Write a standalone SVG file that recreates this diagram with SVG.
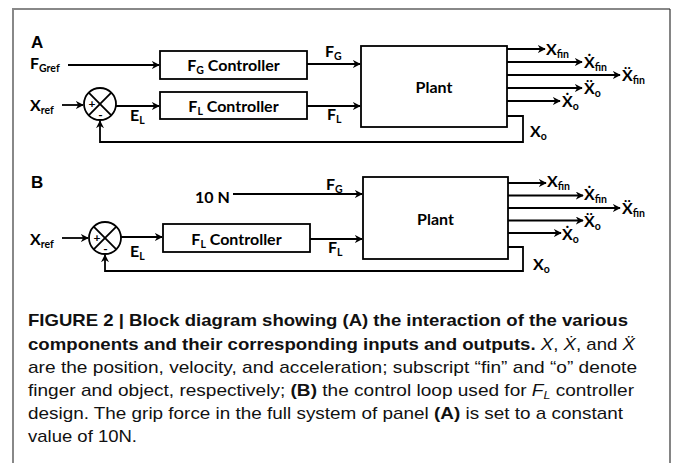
<svg xmlns="http://www.w3.org/2000/svg" width="673" height="463" viewBox="0 0 673 463">
<style>
.lbl{font-family:Lato,"Open Sans","Liberation Sans",sans-serif;font-weight:700;font-size:16px;fill:#000}
.sm{font-size:10.5px}
.sg{font-family:Lato,"Liberation Sans",sans-serif;font-weight:700;font-size:12px;fill:#000}
.ln{fill:none;stroke:#000;stroke-width:1.8}
.box{fill:#fff;stroke:#000;stroke-width:1.8}
.panel{font-family:"Liberation Sans",Arial,sans-serif;font-weight:700;font-size:17px;fill:#000}
.cap{font-family:"Liberation Sans",Arial,sans-serif;font-size:17px;fill:#111}
.b{font-weight:700}
.i{font-style:italic}
</style>
<defs>
<marker id="ah" viewBox="0 0 10 10" refX="9" refY="5" markerWidth="8" markerHeight="8" markerUnits="userSpaceOnUse" orient="auto">
<path d="M0,0 L10,5 L0,10 L3,5 Z" fill="#000"/>
</marker>
</defs>
<rect width="673" height="463" fill="#fff"/>
<g id="frame">
<path d="M13,463 V9 H670" fill="none" stroke="#888" stroke-width="2"/>
<path d="M670,9 V463" fill="none" stroke="#333" stroke-width="1.2"/>
</g>

<!-- Panel A -->
<text class="panel" x="31" y="48">A</text>
<g id="A-fgctrl"><rect class="box" x="160" y="51" width="147" height="28"/>
<text class="lbl" x="233.5" y="71" text-anchor="middle">F<tspan class="sm" dy="3">G</tspan><tspan dy="-3"> Controller</tspan></text></g>
<g id="A-flctrl"><rect class="box" x="160" y="92" width="147" height="27"/>
<text class="lbl" x="233.5" y="112" text-anchor="middle">F<tspan class="sm" dy="3">L</tspan><tspan dy="-3"> Controller</tspan></text></g>
<g id="A-sum"><circle class="ln" cx="100" cy="104" r="16"/>
<path class="ln" d="M88.7,92.7 L111.3,115.3 M111.3,92.7 L88.7,115.3" stroke-width="1.5"/>
<text class="sg" x="92" y="108" text-anchor="middle">+</text>
<text class="sg" x="100.5" y="119" text-anchor="middle">-</text></g>
<g id="A-plant"><rect class="box" x="361" y="46" width="146" height="81"/>
<text class="lbl" x="434" y="93" text-anchor="middle">Plant</text></g>
<g id="A-labels">
<text class="lbl" x="30" y="69">F<tspan class="sm" dy="3">Gref</tspan></text>
<text class="lbl" x="30" y="111">X<tspan class="sm" dy="3">ref</tspan></text>
<text class="lbl" x="130" y="121">E<tspan class="sm" dy="3">L</tspan></text>
<text class="lbl" x="325" y="57">F<tspan class="sm" dy="3">G</tspan></text>
<text class="lbl" x="327" y="120">F<tspan class="sm" dy="3">L</tspan></text>
<text class="lbl" x="546" y="55">X<tspan class="sm" dy="3">fin</tspan></text>
<text class="lbl" x="584" y="68">Ẋ<tspan class="sm" dy="3">fin</tspan></text>
<text class="lbl" x="622" y="81">Ẍ<tspan class="sm" dy="3">fin</tspan></text>
<text class="lbl" x="584" y="94">Ẍ<tspan class="sm" dy="3">o</tspan></text>
<text class="lbl" x="562" y="107">Ẋ<tspan class="sm" dy="3">o</tspan></text>
<text class="lbl" x="530" y="137">X<tspan class="sm" dy="3">o</tspan></text>
</g>

<!-- Panel B -->
<text class="panel" x="31" y="188">B</text>
<g id="B-flctrl"><rect class="box" x="163" y="224" width="147" height="28"/>
<text class="lbl" x="236.5" y="245" text-anchor="middle">F<tspan class="sm" dy="3">L</tspan><tspan dy="-3"> Controller</tspan></text></g>
<g id="B-sum"><circle class="ln" cx="105" cy="238" r="16"/>
<path class="ln" d="M93.7,226.7 L116.3,249.3 M116.3,226.7 L93.7,249.3" stroke-width="1.5"/>
<text class="sg" x="97" y="242" text-anchor="middle">+</text>
<text class="sg" x="105.5" y="253" text-anchor="middle">-</text></g>
<g id="B-plant"><rect class="box" x="363" y="177" width="145" height="82"/>
<text class="lbl" x="435.5" y="225" text-anchor="middle">Plant</text></g>
<g id="B-labels">
<text class="lbl" x="195" y="203">10 N</text>
<text class="lbl" x="30" y="245">X<tspan class="sm" dy="3">ref</tspan></text>
<text class="lbl" x="130" y="257">E<tspan class="sm" dy="3">L</tspan></text>
<text class="lbl" x="326" y="190">F<tspan class="sm" dy="3">G</tspan></text>
<text class="lbl" x="328" y="253">F<tspan class="sm" dy="3">L</tspan></text>
<text class="lbl" x="547" y="187">X<tspan class="sm" dy="3">fin</tspan></text>
<text class="lbl" x="584" y="200">Ẋ<tspan class="sm" dy="3">fin</tspan></text>
<text class="lbl" x="622" y="214">Ẍ<tspan class="sm" dy="3">fin</tspan></text>
<text class="lbl" x="584" y="227">Ẍ<tspan class="sm" dy="3">o</tspan></text>
<text class="lbl" x="562" y="240">Ẋ<tspan class="sm" dy="3">o</tspan></text>
<text class="lbl" x="533" y="270">X<tspan class="sm" dy="3">o</tspan></text>
</g>

<g id="connectors">
<!-- A -->
<path class="ln" d="M68,65 H159" marker-end="url(#ah)"/>
<path class="ln" d="M62,105 H83" marker-end="url(#ah)"/>
<path class="ln" d="M116,106 H159" marker-end="url(#ah)"/>
<path class="ln" d="M307,64 H360" marker-end="url(#ah)"/>
<path class="ln" d="M307,106 H360" marker-end="url(#ah)"/>
<path class="ln" d="M507,49 H545" marker-end="url(#ah)"/>
<path class="ln" d="M507,62 H582" marker-end="url(#ah)"/>
<path class="ln" d="M507,75 H620" marker-end="url(#ah)"/>
<path class="ln" d="M507,88 H582" marker-end="url(#ah)"/>
<path class="ln" d="M507,101 H560" marker-end="url(#ah)"/>
<path class="ln" d="M507,116 H523 V142 H100 V121" marker-end="url(#ah)"/>
<!-- B -->
<path class="ln" d="M233,194 H362" marker-end="url(#ah)"/>
<path class="ln" d="M62,238 H88" marker-end="url(#ah)"/>
<path class="ln" d="M121,237 H162" marker-end="url(#ah)"/>
<path class="ln" d="M310,239 H362" marker-end="url(#ah)"/>
<path class="ln" d="M508,183 H546" marker-end="url(#ah)"/>
<path class="ln" d="M508,195.5 H583" marker-end="url(#ah)"/>
<path class="ln" d="M508,208 H620" marker-end="url(#ah)"/>
<path class="ln" d="M508,220.5 H583" marker-end="url(#ah)"/>
<path class="ln" d="M508,233 H561" marker-end="url(#ah)"/>
<path class="ln" d="M508,247 H523 V271 H105 V255" marker-end="url(#ah)"/>
</g>

<g id="caption">
<text class="cap b" x="28" y="326" textLength="600" lengthAdjust="spacingAndGlyphs">FIGURE 2 | Block diagram showing (A) the interaction of the various</text>
<text class="cap" x="28" y="349.5" textLength="607" lengthAdjust="spacingAndGlyphs"><tspan class="b">components and their corresponding inputs and outputs.</tspan> <tspan class="i">X</tspan>, <tspan class="i">Ẋ</tspan>, and <tspan class="i">Ẍ</tspan></text>
<text class="cap" x="28" y="372.5" textLength="609" lengthAdjust="spacingAndGlyphs">are the position, velocity, and acceleration; subscript “fin” and “o” denote</text>
<text class="cap" x="28" y="396" textLength="606" lengthAdjust="spacingAndGlyphs">finger and object, respectively; <tspan class="b">(B)</tspan> the control loop used for <tspan class="i">F</tspan><tspan class="i" font-size="11" dy="3">L</tspan><tspan dy="-3"> controller</tspan></text>
<text class="cap" x="28" y="419" textLength="595" lengthAdjust="spacingAndGlyphs">design. The grip force in the full system of panel <tspan class="b">(A)</tspan> is set to a constant</text>
<text class="cap" x="28" y="442" textLength="109" lengthAdjust="spacingAndGlyphs">value of 10N.</text>
</g>
</svg>
